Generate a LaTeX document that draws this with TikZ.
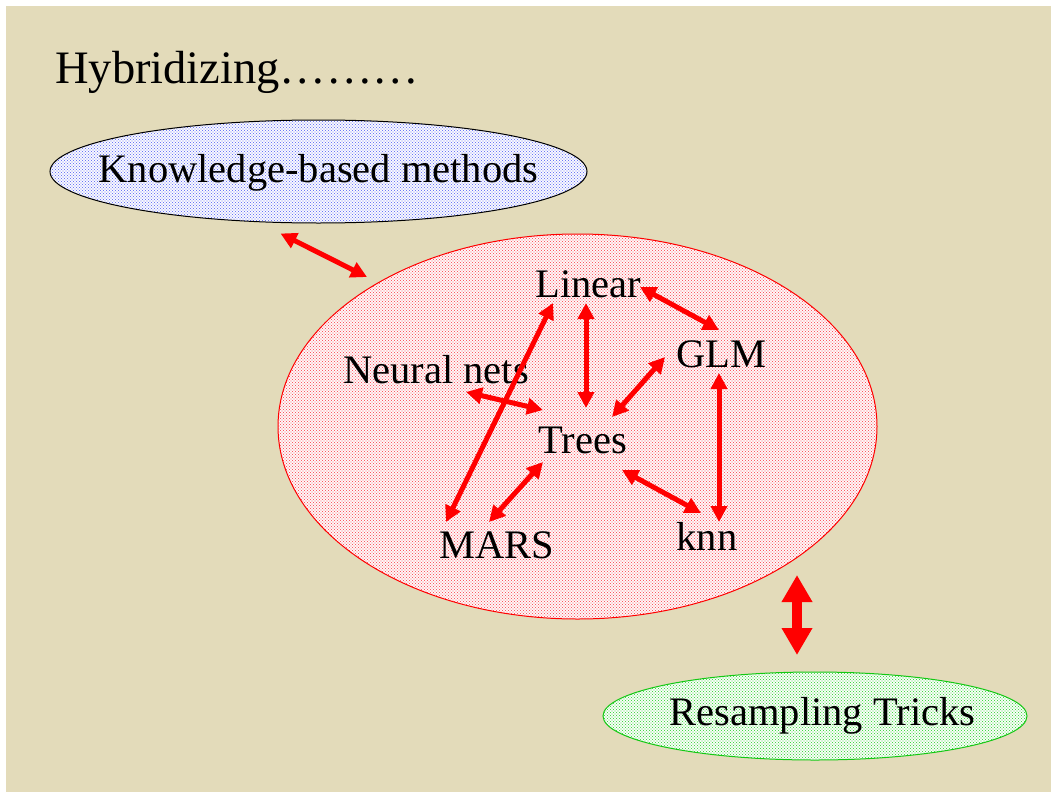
\documentclass[tikz,border=0pt]{standalone}
\usepackage{fontspec}
\setmainfont{Liberation Serif}
\usetikzlibrary{arrows.meta,patterns,shapes.geometric,calc}

% fine dot screen used to shade the ellipses
\pgfdeclarepatternformonly{screendots}{\pgfqpoint{-1pt}{-1pt}}{\pgfqpoint{4pt}{4pt}}{\pgfqpoint{3pt}{3pt}}{%
  \pgfpathcircle{\pgfqpoint{0pt}{0pt}}{.6pt}%
  \pgfpathcircle{\pgfqpoint{1.5pt}{1.5pt}}{.6pt}%
  \pgfusepath{fill}}

\definecolor{parchment}{RGB}{227,219,186}
\definecolor{dotblue}{RGB}{110,120,245}
\definecolor{dotred}{RGB}{250,90,100}
\definecolor{dotgreen}{RGB}{70,215,70}
\definecolor{rimgreen}{RGB}{20,200,20}

\tikzset{
  bubble/.style={ellipse, inner sep=0pt, line width=1pt, preaction={fill=white}, pattern=screendots},
  lbl/.style={font=\fontsize{40.5}{48}\selectfont, inner sep=0pt, anchor=base},
  link/.style={draw=red, line width=5pt,
    arrows={Triangle[length=16pt,width=16pt]-Triangle[length=16pt,width=16pt]}},
  biglink/.style={draw=red, line width=10pt,
    arrows={Triangle[length=27pt,width=29pt]-Triangle[length=27pt,width=29pt]}}
}

\begin{document}
\begin{tikzpicture}[x=1pt,y=-1pt]
  % slide background
  \fill[parchment] (0,0) rectangle (1051,792);
  \fill[white] (0,0) rectangle (1051,6);
  \fill[white] (0,0) rectangle (6,792);
  \useasboundingbox (0,0) rectangle (1051,792);

  % heading
  \node[anchor=base west, inner sep=0pt, font=\fontsize{46.5}{54}\selectfont] (title) at (55,83) {Hybridizing………};

  % the three groups
  \node[bubble, draw=black, pattern color=dotblue, minimum width=537pt, minimum height=103pt] (know) at (318.5,171.5) {};
  \node[lbl] (knowtxt) at (318.5,182) {Knowledge-based methods};

  \node[bubble, draw=red, pattern color=dotred, minimum width=599pt, minimum height=385pt] (models) at (577.5,426.5) {};

  \node[bubble, draw=rimgreen, pattern color=dotgreen, minimum width=424pt, minimum height=88pt] (resamp) at (815,716) {};
  \node[lbl] (resamptxt) at (822.5,725) {Resampling Tricks};

  % model families
  \node[lbl] (linear) at (588.5,297) {Linear};
  \node[lbl] (glm)    at (721.5,367) {GLM};
  \node[lbl] (neural) at (436,383)   {Neural nets};
  \node[lbl] (trees)  at (582.5,453) {Trees};
  \node[lbl] (mars)   at (496.5,558) {MARS};
  \node[lbl] (knn)    at (707,550)   {knn};

  % links between the families
  \draw[link] ($(linear.base)+(51.5,-10)$) -- ($(glm.base)+(-2.5,-37)$);
  \draw[link] ($(linear.base)+(-2.5,6)$)   -- ($(trees.base)+(3.5,-45)$);
  \draw[link] ($(linear.base)+(-35.5,6)$)  -- ($(mars.base)+(-50.5,-36)$);
  \draw[link] ($(glm.base)+(-56.5,-10)$)   -- ($(trees.base)+(29.5,-36)$);
  \draw[link] ($(neural.base)+(30,9)$)     -- ($(trees.base)+(-39.5,-43)$);
  \draw[link] ($(glm.base)+(-2.5,6)$)      -- ($(knn.base)+(12,-28)$);
  \draw[link] ($(trees.base)+(-39.5,9)$)   -- ($(mars.base)+(-7.5,-36)$);
  \draw[link] ($(trees.base)+(39.5,17)$)   -- ($(knn.base)+(-6,-37)$);

  % links between the groups
  \draw[link] ($(know.center)+(-38,62)$) -- ($(models.center)+(-210.5,-149.5)$);
  \draw[biglink] ($(models.center)+(219.5,148.5)$) -- ($(resamp.center)+(-18,-61)$);
\end{tikzpicture}
\end{document}
